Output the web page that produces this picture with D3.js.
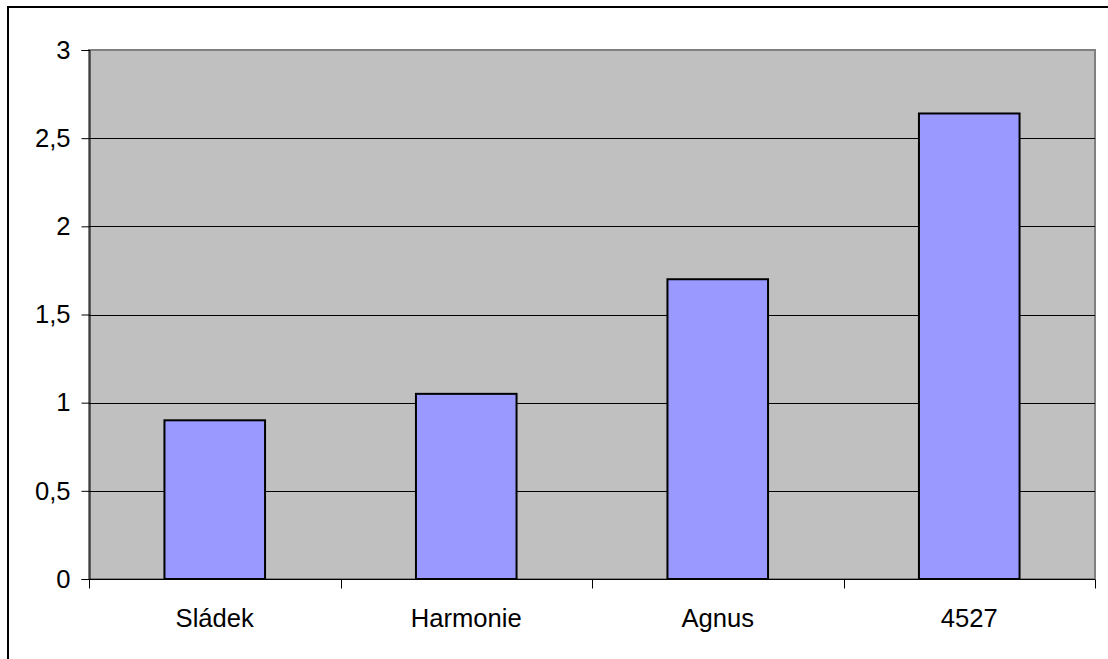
<!DOCTYPE html>
<html>
<head>
<meta charset="utf-8">
<script src="https://cdn.jsdelivr.net/npm/d3@7"></script>
<style>
  html, body { margin: 0; padding: 0; background: #fff; }
  svg { display: block; }
</style>
</head>
<body>
<svg id="chart" width="1108" height="659"></svg>
<script>
// Varieties and their measured values
const categories = ["Sládek", "Harmonie", "Agnus", "4527"];
const values = [0.9, 1.05, 1.7, 2.64];
const yTicks = [0, 0.5, 1, 1.5, 2, 2.5, 3];

const W = 1108, H = 659;
const plot = { left: 89, top: 50, right: 1095, bottom: 579 };
const font = "'Liberation Sans', Arial, sans-serif";
const fontSize = 25.6;

const svg = d3.select("#chart");

// Outer chart frame (runs off the right and bottom edges)
svg.append("rect")
  .attr("x", 8).attr("y", 7)
  .attr("width", W + 10).attr("height", H + 10)
  .attr("fill", "#fff").attr("stroke", "#000").attr("stroke-width", 2);

const x = d3.scaleBand().domain(categories).range([plot.left, plot.right]).padding(0);
const y = d3.scaleLinear().domain([0, 3]).range([plot.bottom, plot.top]);

// Plot area background
svg.append("rect")
  .attr("x", plot.left).attr("y", plot.top)
  .attr("width", plot.right - plot.left).attr("height", plot.bottom - plot.top)
  .attr("fill", "#C0C0C0").attr("stroke", "#808080").attr("stroke-width", 2);

// Horizontal gridlines
svg.append("g").selectAll("line")
  .data(yTicks.filter(t => t > 0 && t < 3))
  .join("line")
  .attr("x1", plot.left).attr("x2", plot.right)
  .attr("y1", d => Math.round(y(d)) + 0.5).attr("y2", d => Math.round(y(d)) + 0.5)
  .attr("stroke", "#000").attr("stroke-width", 1);

// Bars: 40% of each category slot, centred
const bw = x.bandwidth();
svg.append("g").selectAll("rect")
  .data(categories.map((c, i) => ({ c, v: values[i] })))
  .join("rect")
  .attr("x", d => x(d.c) + bw * 0.3)
  .attr("width", bw * 0.4)
  .attr("y", d => y(d.v))
  .attr("height", d => y(0) - y(d.v))
  .attr("fill", "#9999FF")
  .attr("stroke", "#000")
  .attr("stroke-width", 2);

// Y axis
const yAxis = d3.axisLeft(y)
  .tickValues(yTicks)
  .tickSize(8)
  .tickPadding(11)
  .tickFormat(d => d3.format("~g")(d).replace(".", ","));
const gy = svg.append("g")
  .attr("transform", `translate(${plot.left + 0.5},0)`)
  .call(yAxis);
gy.select(".domain").attr("stroke", "#000");
gy.selectAll(".tick line").attr("stroke", "#000");
gy.selectAll(".tick text")
  .attr("font-family", font).attr("font-size", fontSize).attr("fill", "#000");

// X axis with ticks on category boundaries
const gx = svg.append("g")
  .attr("transform", `translate(0,${plot.bottom + 0.5})`);
gx.append("line")
  .attr("x1", plot.left).attr("x2", plot.right)
  .attr("stroke", "#000");
const boundaries = categories.map(c => x(c)).concat([plot.right]);
gx.selectAll("line.tick")
  .data(boundaries)
  .join("line")
  .attr("class", "tick")
  .attr("x1", d => Math.round(d) + 0.5).attr("x2", d => Math.round(d) + 0.5)
  .attr("y1", 0).attr("y2", 9)
  .attr("stroke", "#000");
gx.selectAll("text")
  .data(categories)
  .join("text")
  .attr("x", d => x(d) + bw / 2)
  .attr("y", 47)
  .attr("text-anchor", "middle")
  .attr("font-family", font).attr("font-size", fontSize).attr("fill", "#000")
  .text(d => d);
</script>
</body>
</html>
